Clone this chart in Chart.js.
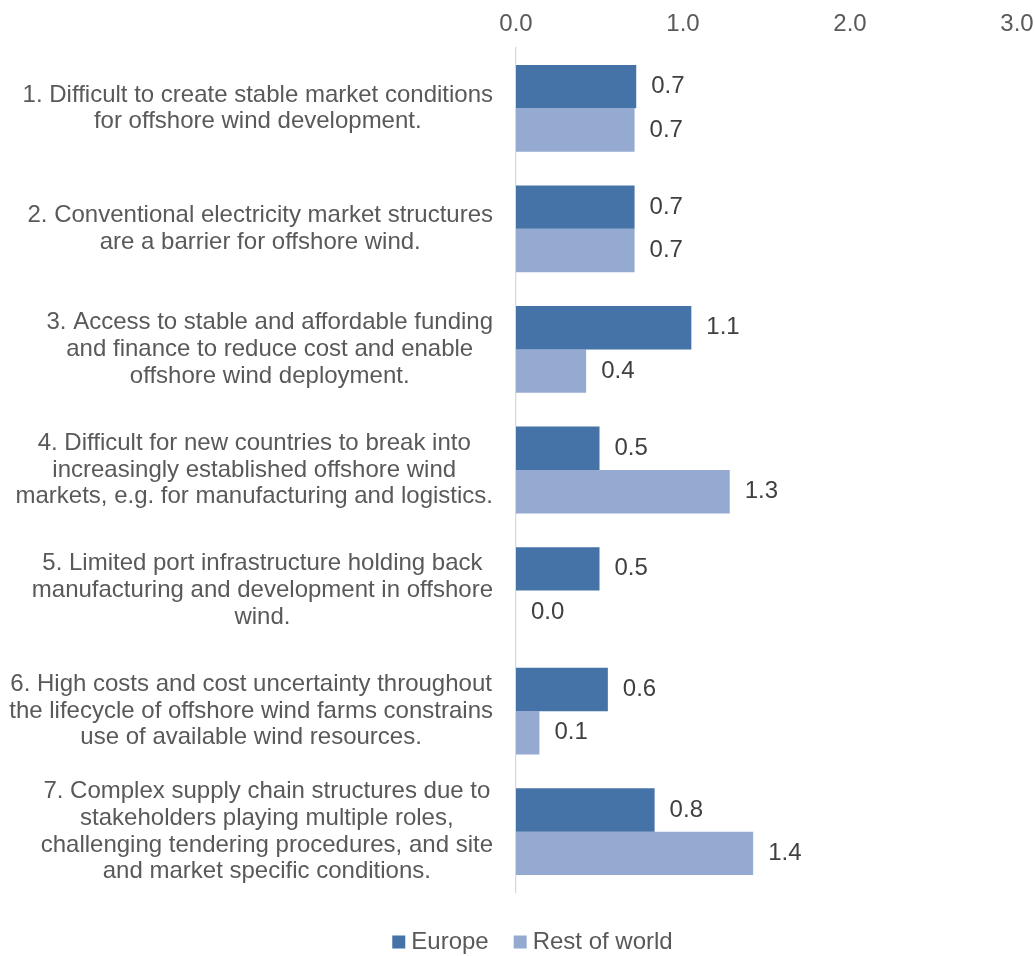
<!DOCTYPE html>
<html>
<head>
<meta charset="utf-8">
<title>Offshore wind barriers</title>
<script src="https://cdn.jsdelivr.net/npm/chart.js@4/dist/chart.umd.min.js"></script>
<style>
  html, body { margin: 0; padding: 0; background: #fff; }
  #wrap { width: 1035px; height: 956px; position: relative; }
</style>
</head>
<body>
<div id="wrap"><canvas id="myChart"></canvas></div>
<script>
/* globals Chart:false */

const categories = [
  ['1. Difficult to create stable market conditions', 'for offshore wind development.'],
  ['2. Conventional electricity market structures', 'are a barrier for offshore wind.'],
  ['3. Access to stable and affordable funding', 'and finance to reduce cost and enable', 'offshore wind deployment.'],
  ['4. Difficult for new countries to break into', 'increasingly established offshore wind', 'markets, e.g. for manufacturing and logistics.'],
  ['5. Limited port infrastructure holding back', 'manufacturing and development in offshore', 'wind.'],
  ['6. High costs and cost uncertainty throughout', 'the lifecycle of offshore wind farms constrains', 'use of available wind resources.'],
  ['7. Complex supply chain structures due to', 'stakeholders playing multiple roles,', 'challenging tendering procedures, and site', 'and market specific conditions.']
]
const seriesNames = ['Europe', 'Rest of world']
const europe = [0.72, 0.71, 1.05, 0.50, 0.50, 0.55, 0.83]
const restOfWorld = [0.71, 0.71, 0.42, 1.28, 0.0, 0.14, 1.42]
const xTicks = [0, 1, 2, 3]

;(() => {
  'use strict'

  const FONT = '24px "Liberation Sans", Arial, sans-serif'
  const GREY = '#595959'
  const LINE_GAP = 26.7

  Chart.defaults.font.family = '"Liberation Sans", Arial, sans-serif'
  Chart.defaults.font.size = 24
  Chart.defaults.color = GREY

  // value next to the end of each bar
  const barLabels = {
    id: 'barLabels',
    afterDatasetsDraw(chart) {
      const { ctx } = chart
      ctx.save()
      ctx.font = FONT
      ctx.fillStyle = '#404040'
      ctx.textAlign = 'left'
      ctx.textBaseline = 'middle'
      chart.data.datasets.forEach((ds, i) => {
        chart.getDatasetMeta(i).data.forEach((bar, j) => {
          ctx.fillText(ds.data[j].toFixed(1), bar.x + 15, bar.y)
        })
      })
      ctx.restore()
    }
  }

  // wrapped category text, block set against the axis, lines centred
  const categoryLabels = {
    id: 'categoryLabels',
    afterDraw(chart) {
      const { ctx, chartArea } = chart
      const yScale = chart.scales.y
      const right = chartArea.left - 23
      ctx.save()
      ctx.font = FONT
      ctx.fillStyle = GREY
      ctx.textAlign = 'center'
      ctx.textBaseline = 'middle'
      chart.data.labels.forEach((lines, i) => {
        const y = yScale.getPixelForValue(i)
        const w = Math.max(...lines.map(l => ctx.measureText(l).width))
        const top = y - (lines.length - 1) * LINE_GAP / 2
        lines.forEach((l, k) => ctx.fillText(l, right - w / 2, top + k * LINE_GAP))
      })
      ctx.restore()
    }
  }

  // legend row under the plot
  const bottomLegend = {
    id: 'bottomLegend',
    afterDraw(chart) {
      const { ctx } = chart
      const box = 13
      const gap = 6
      const spacing = 25
      ctx.save()
      ctx.font = FONT
      ctx.textAlign = 'left'
      ctx.textBaseline = 'middle'
      const items = chart.data.datasets.map(ds => ({
        text: ds.label,
        color: ds.backgroundColor,
        w: ctx.measureText(ds.label).width
      }))
      const total = items.reduce((s, it) => s + box + gap + it.w, 0) + spacing * (items.length - 1)
      let x = chart.width / 2 + 15 - total / 2
      const y = chart.height - 14
      items.forEach(it => {
        ctx.fillStyle = it.color
        ctx.fillRect(x, y - box / 2, box, box)
        x += box + gap
        ctx.fillStyle = GREY
        ctx.fillText(it.text, x, y)
        x += it.w + spacing
      })
      ctx.restore()
    }
  }

  const ctx = document.getElementById('myChart')
  // eslint-disable-next-line no-unused-vars
  const myChart = new Chart(ctx, {
    type: 'bar',
    data: {
      labels: categories,
      datasets: [{
        label: seriesNames[0],
        data: europe,
        backgroundColor: '#4572A7',
        categoryPercentage: 0.72,
        barPercentage: 1.0
      }, {
        label: seriesNames[1],
        data: restOfWorld,
        backgroundColor: '#95AAD1',
        categoryPercentage: 0.72,
        barPercentage: 1.0
      }]
    },
    plugins: [barLabels, categoryLabels, bottomLegend],
    options: {
      indexAxis: 'y',
      responsive: true,
      maintainAspectRatio: false,
      animation: false,
      layout: {
        padding: { top: 0, left: 0, right: 18, bottom: 64 }
      },
      scales: {
        x: {
          position: 'top',
          min: xTicks[0],
          max: xTicks[xTicks.length - 1],
          afterBuildTicks: scale => {
            scale.ticks = xTicks.map(v => ({ value: v }))
          },
          afterFit: scale => {
            scale.height = 48
            scale.paddingLeft = 0
            scale.paddingRight = 18
          },
          ticks: {
            padding: 9,
            color: GREY,
            font: { size: 24 },
            callback: v => Number(v).toFixed(1)
          },
          grid: { display: false, drawTicks: false },
          border: { display: false }
        },
        y: {
          afterFit: scale => {
            scale.width = 516
          },
          ticks: { display: false },
          grid: { display: false, drawTicks: false },
          border: { display: true, color: '#d9d9d9', width: 1.3 }
        }
      },
      plugins: {
        legend: { display: false },
        tooltip: { enabled: false }
      }
    }
  })
})()
</script>
</body>
</html>
